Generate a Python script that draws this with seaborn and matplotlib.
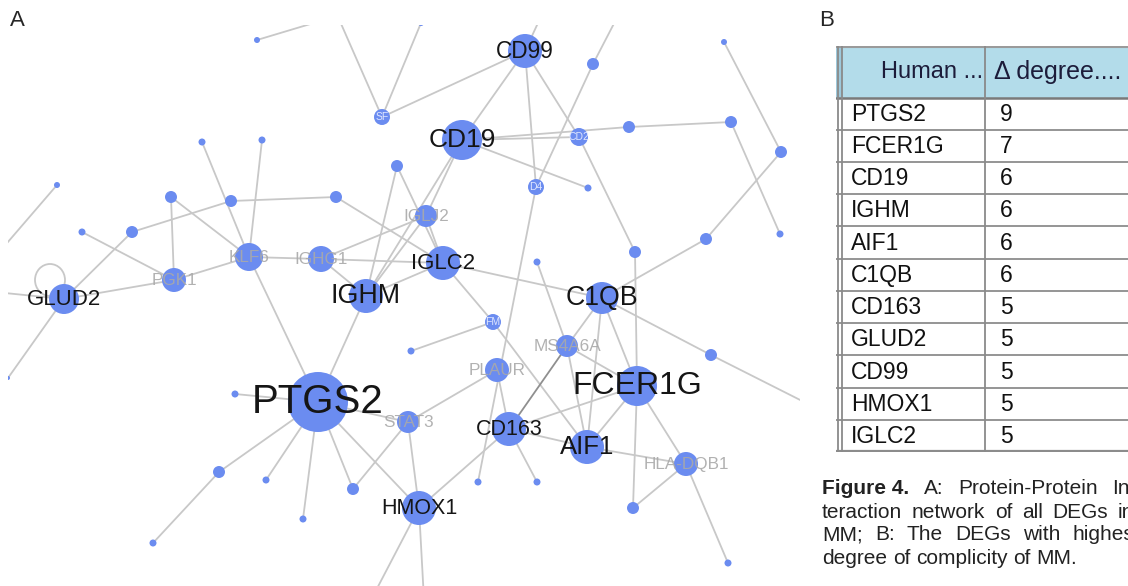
import matplotlib
matplotlib.use("Agg")
import matplotlib.pyplot as plt
import matplotlib.patches as mpatches
import seaborn as sns
import pandas as pd
import numpy as np

sns.set_style("white")
plt.rcParams['font.family'] = ['Liberation Sans', 'DejaVu Sans']

W, H = 1128, 586

# ---- panel A: network, node positions (pixels, y down) ----
node_names = ["PTGS2", "FCER1G", "CD19", "IGHM", "C1QB", "AIF1", "CD163", "GLUD2",
              "CD99", "HMOX1", "IGLC2",
              "KLF6", "IGHG1", "PGK1", "IGLJ2", "STAT3", "PLAUR", "MS4A6A", "HLA-DQB1",
              "SF", "CD2", "D4", "FM",
              "n1", "n2", "n3", "n4", "n5", "n6", "n7", "n8", "n9", "n10", "n11", "n12",
              "n13", "n14", "n15", "n16", "n17", "n18", "n19", "n20", "n21", "n22", "n23",
              "n24", "n25", "n26", "n27", "n28", "n29", "n30", "n31", "n32", "n33", "n34"]
node_x = [318, 637, 462, 366, 602, 587, 509, 64,
          525, 419, 443,
          249, 321, 174, 426, 408, 497, 567, 686,
          382, 579, 536, 493,
          257, 202, 262, 57, 171, 231, 336, 397, 82, 132, 8, 593,
          724, 629, 731, 781, 588, 537, 635, 706, 780, 411, 711,
          235, 219, 153, 266, 303, 353, 478, 537, 633, 728, 421]
node_y = [402, 386, 140, 296, 298, 447, 429, 299,
          51, 508, 263,
          257, 259, 280, 216, 422, 370, 346, 464,
          117, 137, 187, 322,
          40, 142, 140, 185, 197, 201, 197, 166, 232, 232, 378, 64,
          42, 127, 122, 152, 188, 262, 252, 239, 234, 351, 355,
          394, 472, 543, 480, 519, 489, 482, 482, 508, 563, 23]
node_size = [30, 20, 20, 17, 16, 17, 17, 15,
             17, 17, 17,
             14, 13, 12, 11, 11, 12, 11, 12,
             8, 9, 8, 8,
             3, 3.5, 3.5, 3, 6, 6, 6, 6, 3.5, 6, 2, 6,
             3, 6, 6, 6, 3.5, 3.5, 6, 6, 3.5, 3.5, 6,
             3.5, 6, 3.5, 3.5, 3.5, 6, 3.5, 3.5, 6, 3.5, 3]

hub_genes = ["PTGS2", "FCER1G", "CD19", "IGHM", "C1QB", "AIF1", "CD163", "GLUD2",
             "CD99", "HMOX1", "IGLC2"]
hub_font = [29, 23, 19, 19.3, 19.3, 18.5, 15.5, 16, 16.3, 15.5, 16]
minor_genes = ["KLF6", "IGHG1", "PGK1", "IGLJ2", "STAT3", "PLAUR", "MS4A6A", "HLA-DQB1"]
tag_nodes = ["SF", "CD2", "D4", "FM"]

# edges that run out of the panel end at these points
stub_names = ["h1", "h2", "h3", "h4", "h5", "h6", "h7", "h8", "h9"]
stub_x = [357, 335, 544, 621, -5, -5, 820, 371, 424]
stub_y = [10, 10, 10, 10, 257, 292, 410, 600, 600]

edges = [
    ("n1", "h1"), ("SF", "h2"), ("SF", "n34"), ("SF", "CD99"),
    ("CD99", "CD19"), ("CD99", "D4"), ("CD99", "CD2"), ("CD99", "h3"),
    ("n12", "h4"), ("n12", "D4"),
    ("CD19", "CD2"), ("CD19", "n14"), ("CD19", "n17"), ("CD19", "IGHM"), ("CD19", "IGLJ2"),
    ("n14", "n15"), ("n15", "n21"), ("n13", "n16"), ("n16", "n20"), ("n20", "C1QB"),
    ("CD2", "n19"), ("n19", "FCER1G"), ("FCER1G", "n32"),
    ("D4", "n30"), ("n18", "MS4A6A"),
    ("n2", "KLF6"), ("n3", "KLF6"), ("n5", "KLF6"), ("KLF6", "PTGS2"),
    ("PGK1", "KLF6"), ("KLF6", "IGHG1"),
    ("n10", "n6"), ("n6", "n7"), ("n7", "IGLC2"),
    ("n9", "PGK1"), ("n10", "GLUD2"), ("n5", "PGK1"), ("PGK1", "GLUD2"),
    ("n4", "h5"), ("GLUD2", "h6"), ("GLUD2", "n11"),
    ("IGHG1", "IGHM"), ("IGHG1", "IGLC2"), ("IGHG1", "IGLJ2"),
    ("n8", "IGHM"), ("n8", "IGLC2"),
    ("IGLJ2", "IGHM"), ("IGLJ2", "IGLC2"),
    ("IGHM", "IGLC2"), ("IGHM", "PTGS2"),
    ("IGLC2", "C1QB"), ("IGLC2", "FM"),
    ("FM", "AIF1"), ("FM", "n22"),
    ("C1QB", "MS4A6A"), ("C1QB", "FCER1G"), ("C1QB", "AIF1"), ("C1QB", "n23"), ("n23", "h7"),
    ("MS4A6A", "AIF1"), ("MS4A6A", "FCER1G"),
    ("FCER1G", "AIF1"), ("FCER1G", "CD163"), ("FCER1G", "HLA-DQB1"),
    ("AIF1", "CD163"), ("AIF1", "HLA-DQB1"),
    ("HLA-DQB1", "n32"), ("HLA-DQB1", "n33"),
    ("CD163", "PLAUR"), ("CD163", "HMOX1"), ("CD163", "n31"),
    ("PLAUR", "STAT3"),
    ("STAT3", "HMOX1"), ("STAT3", "n29"), ("STAT3", "PTGS2"),
    ("PTGS2", "n24"), ("PTGS2", "n25"), ("PTGS2", "n27"), ("PTGS2", "n28"),
    ("PTGS2", "n29"), ("PTGS2", "HMOX1"),
    ("n25", "n26"),
    ("HMOX1", "h8"), ("HMOX1", "h9"),
]
dark_edges = [("MS4A6A", "CD163")]

# ---- panel B: table ----
table_genes = ["PTGS2", "FCER1G", "CD19", "IGHM", "AIF1", "C1QB", "CD163", "GLUD2",
               "CD99", "HMOX1", "IGLC2"]
table_degree = [9, 7, 6, 6, 6, 6, 5, 5, 5, 5, 5]
table_header = ["Human ...", "\u0394 degree...."]

caption_bold = "Figure 4."
caption_lines = ["A: Protein-Protein In-",
                 "teraction network of all DEGs in",
                 "MM; B: The DEGs with highest",
                 "degree of complicity of MM."]
caption_right = [1137, 1134, 1140, None]   # justified lines run past the crop

NODE_BLUE = "#6b8cf0"
EDGE_GREY = "#c8c8c8"

fig = plt.figure(figsize=(W / 100, H / 100), dpi=100)


def px_axes(x0, y0, x1, y1):
    return fig.add_axes([x0 / W, 1 - y1 / H, (x1 - x0) / W, (y1 - y0) / H])


# network
ax = px_axes(8, 25, 800, 586)
ax.set_xlim(8, 800)
ax.set_ylim(586, 25)
ax.axis("off")

nodes = pd.DataFrame({"name": node_names, "x": node_x, "y": node_y, "r": node_size})
nodes["area"] = (2 * nodes["r"] * 0.72) ** 2
pos = {n: (x, y) for n, x, y in zip(node_names, node_x, node_y)}
pos.update({n: (x, y) for n, x, y in zip(stub_names, stub_x, stub_y)})

rows = []
for k, (a, b) in enumerate(edges + dark_edges):
    shade = "dark" if (a, b) in dark_edges else "light"
    for n in (a, b):
        rows.append({"edge": k, "x": pos[n][0], "y": pos[n][1], "shade": shade})
edf = pd.DataFrame(rows)
sns.lineplot(data=edf, x="x", y="y", units="edge", hue="shade", estimator=None, sort=False,
             palette={"light": EDGE_GREY, "dark": "#8f8f8f"}, linewidth=1.3, legend=False,
             ax=ax, zorder=1)

# GLUD2 self loop
gx, gy = pos["GLUD2"]
ax.add_patch(mpatches.Ellipse((gx - 14, gy - 19), 30, 32, fill=False, edgecolor=EDGE_GREY,
                              lw=1.3, zorder=1))

amin, amax = nodes["area"].min(), nodes["area"].max()
sns.scatterplot(data=nodes, x="x", y="y", size="area", sizes=(amin, amax),
                size_norm=(amin, amax), color=NODE_BLUE, edgecolor="none", alpha=1,
                legend=False, ax=ax, zorder=3)
ax.set_xlim(8, 800)
ax.set_ylim(586, 25)

for g, fs in zip(hub_genes, hub_font):
    ax.text(pos[g][0], pos[g][1], g, fontsize=fs, color="#151515", ha="center",
            va="center", zorder=5)
for g in minor_genes:
    ax.text(pos[g][0], pos[g][1], g, fontsize=12.3, color="#a9a9a9", ha="center",
            va="center", zorder=5, alpha=0.9)
for g in tag_nodes:
    ax.text(pos[g][0], pos[g][1], g, fontsize=7.5, color="#dfe6ff", ha="center",
            va="center", zorder=5)

# overlay for letters and caption
ov = px_axes(0, 0, W, H)
ov.set_xlim(0, W)
ov.set_ylim(H, 0)
ov.axis("off")
ov.patch.set_alpha(0)
ov.text(10, 21, "A", fontsize=16, ha="left", va="center")
ov.text(819, 21, "B", fontsize=16, ha="left", va="center")

fig.canvas.draw()
renderer = fig.canvas.get_renderer()
cap_y = [489, 512, 535, 558]
cap_left = 822
cap_kw = dict(fontsize=15, color="#222222", va="center", ha="left")


def text_width(t):
    return t.get_window_extent(renderer).width


probe_a = ov.text(0, 300, "a a", **cap_kw)
probe_b = ov.text(0, 300, "aa", **cap_kw)
space_w = text_width(probe_a) - text_width(probe_b)
probe_a.remove()
probe_b.remove()

for li, (yy, line, right) in enumerate(zip(cap_y, caption_lines, caption_right)):
    pieces = []
    if li == 0:
        pieces.append((caption_bold, "bold"))
    pieces += [(w, "normal") for w in line.split(" ")]
    arts = [ov.text(0, yy, w, weight=wt, **cap_kw) for w, wt in pieces]
    widths = [text_width(a) for a in arts]
    if right is None:
        gap = space_w
    else:
        gap = (right - cap_left - sum(widths)) / (len(arts) - 1)
    x = cap_left
    for a, wd in zip(arts, widths):
        a.set_x(x)
        x += wd + gap

# table
tb = px_axes(836, 46, 1128, 452)
tb.set_xlim(836, 1128)
tb.set_ylim(11, -1.6)
tb.axis("off")
tb.add_patch(mpatches.Rectangle((836, -1.6), 292, 1.6, facecolor="#b3dcea",
                                edgecolor="none", zorder=0))
tb.add_patch(mpatches.Rectangle((836, -1.6), 6, 1.6, facecolor="#9dc9dc",
                                edgecolor="none", zorder=0))
tb.axhline(-1.58, color="#9a9a9a", lw=1.5)
tb.axhline(0, color="#7a7a7a", lw=1.8)
for i in range(1, 11):
    tb.axhline(i, color="#8c8c8c", lw=1.3)
tb.axhline(10.97, color="#8c8c8c", lw=1.6)
for xv in (838, 842, 985):
    tb.axvline(xv, color="#8a8a8a", lw=1.3)

tb.text(983, -0.8, table_header[0], fontsize=17, color="#1c1c3a", ha="right", va="center")
tb.text(994, -0.8, table_header[1], fontsize=18, color="#1c1c3a", ha="left", va="center")
for i, (g, d) in enumerate(zip(table_genes, table_degree)):
    tb.text(851, i + 0.52, g, fontsize=16.5, color="#111111", ha="left", va="center")
    tb.text(1000, i + 0.52, str(d), fontsize=16.5, color="#111111", ha="left", va="center")

fig.savefig("out.png", dpi=100)
